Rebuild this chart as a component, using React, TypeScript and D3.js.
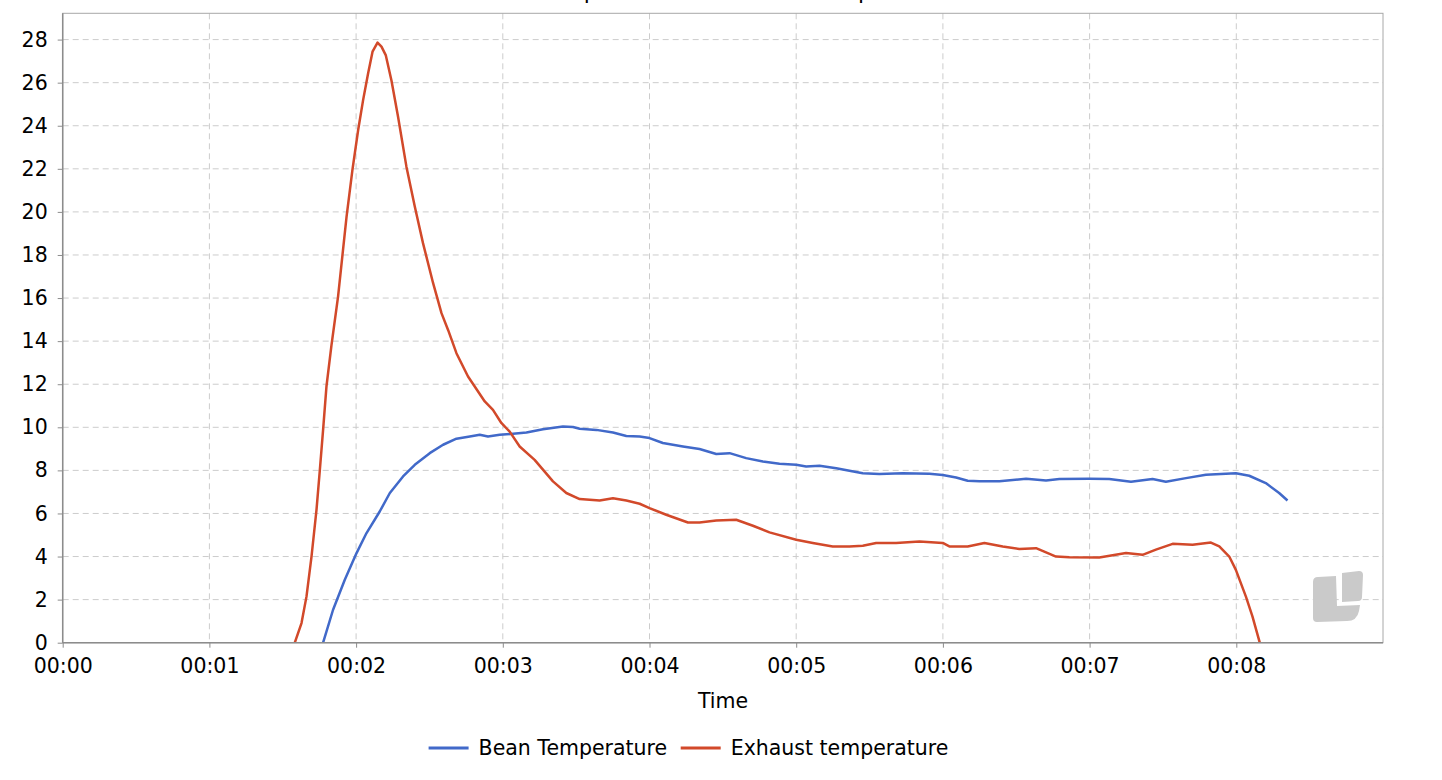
import React, { useRef, useEffect } from "react";
import * as d3 from "d3";

// Time in minutes
const beanTimes = [
  1.775, 1.843, 1.923, 2.003, 2.071, 2.161, 2.23, 2.32, 2.4, 2.502, 2.593,
  2.684, 2.775, 2.843, 2.899, 2.979, 3.07, 3.161, 3.274, 3.41, 3.478, 3.524,
  3.638, 3.751, 3.842, 3.933, 4.0, 4.091, 4.228, 4.341, 4.455, 4.546, 4.659,
  4.773, 4.886, 5.0, 5.068, 5.159, 5.273, 5.363, 5.454, 5.567, 5.726, 5.908,
  5.999, 6.09, 6.169, 6.249, 6.385, 6.567, 6.703, 6.794, 6.998, 7.134, 7.282,
  7.429, 7.52, 7.657, 7.793, 7.997, 8.088, 8.201, 8.292, 8.349,
];
const beanValues = [
  0, 1.53, 2.92, 4.16, 5.09, 6.09, 6.95, 7.72, 8.26, 8.8, 9.19, 9.47, 9.57,
  9.65, 9.57, 9.65, 9.7, 9.76, 9.91, 10.04, 10.01, 9.93, 9.88, 9.76, 9.6,
  9.57, 9.5, 9.27, 9.11, 8.99, 8.76, 8.8, 8.57, 8.41, 8.31, 8.26, 8.18, 8.21,
  8.1, 7.98, 7.87, 7.83, 7.87, 7.84, 7.79, 7.67, 7.52, 7.49, 7.49, 7.61, 7.53,
  7.6, 7.61, 7.6, 7.47, 7.6, 7.47, 7.64, 7.8, 7.87, 7.75, 7.41, 6.95, 6.6,
];

const exhaustTimes = [
  1.582, 1.628, 1.662, 1.696, 1.73, 1.753, 1.775, 1.798, 1.832, 1.877, 1.935,
  1.975, 2.014, 2.048, 2.082, 2.112, 2.146, 2.173, 2.202, 2.241, 2.286, 2.343,
  2.4, 2.456, 2.525, 2.582, 2.627, 2.684, 2.763, 2.877, 2.933, 2.99, 3.047,
  3.115, 3.217, 3.342, 3.433, 3.524, 3.66, 3.751, 3.842, 3.933, 4.0, 4.114,
  4.262, 4.341, 4.455, 4.591, 4.705, 4.818, 5.0, 5.113, 5.249, 5.363, 5.454,
  5.545, 5.681, 5.84, 5.999, 6.044, 6.169, 6.283, 6.408, 6.521, 6.635, 6.771,
  6.862, 7.066, 7.248, 7.361, 7.452, 7.566, 7.702, 7.827, 7.884, 7.952, 7.997,
  8.065, 8.11, 8.16,
];
const exhaustValues = [
  0, 0.91, 2.15, 4.0, 6.17, 8.03, 9.88, 11.9, 13.8, 16.07, 19.78, 21.95, 23.8,
  25.2, 26.44, 27.44, 27.86, 27.67, 27.28, 26.1, 24.42, 22.1, 20.25, 18.55,
  16.69, 15.3, 14.52, 13.44, 12.36, 11.2, 10.81, 10.2, 9.8, 9.11, 8.49, 7.49,
  6.95, 6.67, 6.6, 6.71, 6.6, 6.45, 6.25, 5.94, 5.58, 5.58, 5.67, 5.71, 5.43,
  5.12, 4.78, 4.63, 4.47, 4.47, 4.5, 4.63, 4.63, 4.7, 4.63, 4.47, 4.47, 4.63,
  4.47, 4.35, 4.39, 4.0, 3.97, 3.96, 4.16, 4.08, 4.32, 4.59, 4.55, 4.65, 4.47,
  4.0, 3.38, 2.15, 1.22, 0,
];

const xTicks = [0, 1, 2, 3, 4, 5, 6, 7, 8];
const yTicks = [0, 2, 4, 6, 8, 10, 12, 14, 16, 18, 20, 22, 24, 26, 28];

const seriesNames = ["Bean Temperature", "Exhaust temperature"];
const seriesColors = ["#4169c9", "#d2492a"];

const width = 1442;
const height = 780;
const font = "DejaVu Sans, Verdana, sans-serif";
const fontSize = 20.5;

const App: React.FC = () => {
  const svgRef = useRef<SVGSVGElement | null>(null);

  useEffect(() => {
    if (!svgRef.current) return;
    const svg = d3.select(svgRef.current);
    svg.selectAll("*").remove();

    const left = 62.7;
    const right = 1383;
    const top = 13.3;
    const bottom = 642.7;

    const xScale = d3.scaleLinear().domain([0, 9]).range([left, right]);
    const yScale = d3.scaleLinear().domain([0, 29.22]).range([bottom, top]);

    // Title (mostly above the visible area)
    svg
      .append("text")
      .attr("x", 475)
      .attr("y", -2.5)
      .attr("font-family", font)
      .attr("font-size", 22.2)
      .attr("fill", "#000")
      .text("Bean Temperature vs Exhaust temperature");

    // Grid
    const grid = svg.append("g").attr("class", "grid");
    grid
      .selectAll(".hgrid")
      .data(yTicks.filter((d) => d > 0))
      .enter()
      .append("line")
      .attr("x1", left)
      .attr("x2", right)
      .attr("y1", (d) => yScale(d))
      .attr("y2", (d) => yScale(d))
      .attr("stroke", "#cccccc")
      .attr("stroke-width", 1)
      .attr("stroke-dasharray", "6,4");
    grid
      .selectAll(".vgrid")
      .data(xTicks.filter((d) => d > 0))
      .enter()
      .append("line")
      .attr("x1", (d) => xScale(d))
      .attr("x2", (d) => xScale(d))
      .attr("y1", top)
      .attr("y2", bottom)
      .attr("stroke", "#cccccc")
      .attr("stroke-width", 1)
      .attr("stroke-dasharray", "6,4");

    // Plot border
    svg
      .append("rect")
      .attr("x", left)
      .attr("y", top)
      .attr("width", right - left)
      .attr("height", bottom - top)
      .attr("fill", "none")
      .attr("stroke", "#a8a8a8")
      .attr("stroke-width", 1);

    // Watermark logo
    const logo = svg.append("g").attr("fill", "#cacaca");
    logo
      .append("path")
      .attr(
        "d",
        "M1318,577 L1336,576 L1337,606 L1360,605 L1359,611 Q1357,621 1347,621 L1317,622 Q1313,622 1313,618 L1313,582 Q1313,577 1318,577 Z"
      );
    logo
      .append("path")
      .attr(
        "d",
        "M1342,573 L1359,571 Q1363,571 1363,575 L1362,597 Q1362,601 1358,601 L1342,602 Z"
      );

    // Lines
    const clipId = "plot-clip";
    svg
      .append("clipPath")
      .attr("id", clipId)
      .append("rect")
      .attr("x", left)
      .attr("y", top)
      .attr("width", right - left)
      .attr("height", bottom - top);

    const line = d3
      .line<[number, number]>()
      .x((d) => xScale(d[0]))
      .y((d) => yScale(d[1]));

    const series: [number, number][][] = [
      beanTimes.map((t, i) => [t, beanValues[i]]),
      exhaustTimes.map((t, i) => [t, exhaustValues[i]]),
    ];

    svg
      .append("g")
      .attr("clip-path", `url(#${clipId})`)
      .selectAll("path")
      .data(series)
      .enter()
      .append("path")
      .attr("d", (d) => line(d))
      .attr("fill", "none")
      .attr("stroke", (_d, i) => seriesColors[i])
      .attr("stroke-width", 2.5)
      .attr("stroke-linejoin", "round");

    // Axes
    const yAxis = svg
      .append("g")
      .attr("transform", `translate(${left},0)`)
      .call(
        d3
          .axisLeft(yScale)
          .tickValues(yTicks)
          .tickSize(5)
          .tickPadding(10)
      );
    const xAxis = svg
      .append("g")
      .attr("transform", `translate(0,${bottom})`)
      .call(
        d3
          .axisBottom(xScale)
          .tickValues(xTicks)
          .tickSize(5)
          .tickPadding(11)
          .tickFormat((d) => `00:${d3.format("02d")(d as number)}`)
      );
    [yAxis, xAxis].forEach((ax) => {
      ax.select(".domain").attr("stroke", "#8c8c8c").attr("stroke-width", 1.5);
      ax.selectAll(".tick line").attr("stroke", "#8c8c8c");
      ax.selectAll("text")
        .attr("font-family", font)
        .attr("font-size", fontSize)
        .attr("fill", "#000");
    });
    yAxis.select(".domain").attr("d", `M0,${top}V${bottom}`);
    xAxis.select(".domain").attr("d", `M${left},0H${right}`);

    // Axis title
    svg
      .append("text")
      .attr("x", 723)
      .attr("y", 708)
      .attr("text-anchor", "middle")
      .attr("font-family", font)
      .attr("font-size", fontSize)
      .attr("fill", "#000")
      .text("Time");

    // Legend
    const legendX = [428.6, 680.7];
    const legend = svg.append("g").attr("class", "legend");
    legend
      .selectAll("line")
      .data(seriesNames)
      .enter()
      .append("line")
      .attr("x1", (_d, i) => legendX[i])
      .attr("x2", (_d, i) => legendX[i] + 40)
      .attr("y1", 748)
      .attr("y2", 748)
      .attr("stroke", (_d, i) => seriesColors[i])
      .attr("stroke-width", 3);
    legend
      .selectAll("text")
      .data(seriesNames)
      .enter()
      .append("text")
      .attr("x", (_d, i) => legendX[i] + 50)
      .attr("y", 755)
      .attr("font-family", font)
      .attr("font-size", fontSize)
      .attr("fill", "#000")
      .text((d) => d);

    return () => {
      svg.selectAll("*").remove();
    };
  }, []);

  return (
    <svg
      ref={svgRef}
      width={width}
      height={height}
      style={{ position: "absolute", left: 0, top: 0, background: "#fff" }}
    />
  );
};

export default App;
